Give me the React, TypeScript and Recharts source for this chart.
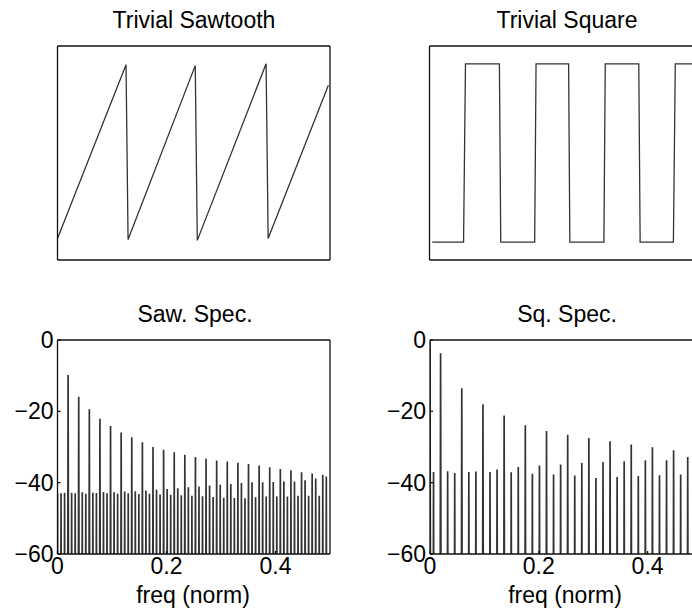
import { LineChart, Line, XAxis, YAxis } from 'recharts'

const FONT = '"Liberation Sans", Arial, Helvetica, sans-serif'
const INK = '#000'
const TRACE = '#333'

// time-domain traces: corner points (sample index, amplitude)
const SAW_T = [0, 50.3, 51.8, 101.1, 102.6, 153.1, 154.6, 198.8]
const SAW_Y = [-0.96, 0.99, -0.97, 0.98, -0.98, 1.0, -0.96, 0.76]

const SQ_T = [2, 25, 26.4, 51.3, 52.3, 77.2, 78.2, 102.1, 103, 128, 129, 153.6, 154.6, 179, 180.4, 200]
const SQ_Y = [-1, -1, 1, 1, -1, -1, 1, 1, -1, -1, 1, 1, -1, -1, 1, 1]

// spectra: one value per DFT bin (dB), bin spacing in normalised freq
const BIN_WIDTH = 0.00649
const BELOW_AXIS_DB = -300

// sawtooth: every bin, grouped as [harmonic, +1 bin, +2 bins]
const SAW_SPEC_DB = [
  -43, -43, -42.8,
  -9.8, -42.8, -43,
  -15.9, -42.7, -43.1,
  -19.4, -42.8, -42.9,
  -22.1, -42.6, -43,
  -24.1, -42.7, -43.1,
  -25.9, -42.5, -43,
  -27.3, -42.4, -43.2,
  -28.7, -42.2, -43.1,
  -30.0, -42, -43.3,
  -30.8, -41.8, -43.4,
  -31.5, -41.6, -43.5,
  -32.2, -41.3, -43.7,
  -32.8, -41.1, -43.8,
  -33.3, -40.8, -44,
  -33.8, -40.6, -44.2,
  -34.1, -40.4, -44.3,
  -34.4, -40.1, -44.4,
  -34.8, -39.9, -44.1,
  -35.2, -39.9, -43.9,
  -35.7, -39.8, -43.9,
  -36.2, -39.7, -43.9,
  -36.5, -39.7, -43.7,
  -37.1, -39.3, -43.7,
  -37.4, -38.8, -43.7,
  -37.8, -38.3,
]

// square: DC plus odd bins only (even bins are empty)
const SQ_SPEC_BINS = [
  0, 1, 3, 5, 7, 9, 11, 13, 15, 17, 19, 21, 23, 25, 27, 29, 31, 33, 35, 37,
  39, 41, 43, 45, 47, 49, 51, 53, 55, 57, 59, 61, 63, 65, 67, 69, 71, 73, 75,
]
const SQ_SPEC_DB = [
  -0.5, -37.0, -3.7, -36.8, -37.3, -13.5, -37.0, -36.9, -18.0, -37.0, -36.3,
  -21.2, -37.1, -35.6, -23.9, -37.5, -35.2, -25.5, -37.7, -34.9, -26.6, -38.0,
  -34.5, -27.5, -38.7, -34.2, -28.4, -38.4, -34.0, -29.3, -38.1, -33.7, -30.1,
  -37.9, -33.7, -30.9, -37.7, -32.8, -31.8,
]

const SPEC_X_TICKS = [0, 0.2, 0.4]
const SPEC_Y_TICKS = [-60, -40, -20, 0]

type Pt = { x: number; y: number }

function corners(t: number[], v: number[]): Pt[] {
  return t.map((x, i) => ({ x, y: v[i] }))
}

// each bin drawn as a spike rising from below the axis
function spikes(bins: number[], levels: number[]): Pt[] {
  const pts: Pt[] = []
  bins.forEach((k, i) => {
    pts.push({ x: (k - 0.5) * BIN_WIDTH, y: BELOW_AXIS_DB })
    pts.push({ x: k * BIN_WIDTH, y: levels[i] })
    pts.push({ x: (k + 0.5) * BIN_WIDTH, y: BELOW_AXIS_DB })
  })
  return pts
}

const sawTime = corners(SAW_T, SAW_Y)
const sqTime = corners(SQ_T, SQ_Y)
const sawSpec = spikes(SAW_SPEC_DB.map((_, k) => k), SAW_SPEC_DB)
const sqSpec = spikes(SQ_SPEC_BINS, SQ_SPEC_DB)

const fmtY = (v: number) => (v < 0 ? `\u2212${Math.abs(v)}` : `${v}`)
const fmtX = (v: number) => `${v}`

// axis boxes: left 50 wide, bottom 30 high, top/right 1px
const AX_L = 50
const AX_B = 30

interface PanelProps {
  left: number
  top: number
  width: number
  height: number
  plot: { top: number; right: number; bottom: number; left: number }
  data: Pt[]
  xDomain: [number, number]
  yDomain: [number, number]
  xTicks?: number[]
  yTicks?: number[]
  traceWidth: number
}

function Panel({ left, top, width, height, plot, data, xDomain, yDomain, xTicks, yTicks, traceWidth }: PanelProps) {
  const labelled = !!xTicks
  const frame = { stroke: '#111', strokeWidth: 1.3 }
  const tickLine = labelled ? frame : false
  const tickText = { fontSize: 23, fill: INK, fontFamily: FONT }
  const margin = {
    top: plot.top - 1,
    right: plot.right - 1,
    bottom: plot.bottom - AX_B,
    left: plot.left - AX_L,
  }
  return (
    <div style={{ position: 'absolute', left, top }}>
      <LineChart width={width} height={height} data={data} margin={margin}>
        <XAxis
          dataKey="x"
          type="number"
          domain={xDomain}
          ticks={xTicks}
          interval={0}
          allowDataOverflow
          height={AX_B}
          axisLine={frame}
          tickLine={tickLine}
          tickSize={-3}
          tickMargin={7}
          tick={labelled ? tickText : false}
          tickFormatter={fmtX}
        />
        <XAxis
          xAxisId="top"
          orientation="top"
          type="number"
          domain={xDomain}
          ticks={xTicks}
          interval={0}
          allowDataOverflow
          height={1}
          axisLine={frame}
          tickLine={tickLine}
          tickSize={-3}
          tick={false}
        />
        <YAxis
          type="number"
          domain={yDomain}
          ticks={yTicks}
          interval={0}
          allowDataOverflow
          width={AX_L}
          axisLine={frame}
          tickLine={tickLine}
          tickSize={-3}
          tickMargin={7}
          tick={labelled ? tickText : false}
          tickFormatter={fmtY}
        />
        <YAxis
          yAxisId="right"
          orientation="right"
          type="number"
          domain={yDomain}
          ticks={yTicks}
          interval={0}
          allowDataOverflow
          width={1}
          axisLine={frame}
          tickLine={tickLine}
          tickSize={-3}
          tick={false}
        />
        <Line
          dataKey="y"
          type="linear"
          stroke={TRACE}
          strokeWidth={traceWidth}
          dot={false}
          isAnimationActive={false}
        />
      </LineChart>
    </div>
  )
}

function Caption({ cx, baseline, text }: { cx: number; baseline: number; text: string }) {
  return (
    <div
      style={{
        position: 'absolute',
        left: cx - 150,
        width: 300,
        top: baseline - 19.5,
        lineHeight: '23px',
        fontSize: 23,
        textAlign: 'center',
        whiteSpace: 'nowrap',
      }}
    >
      {text}
    </div>
  )
}

export default function App() {
  return (
    <div
      style={{
        position: 'absolute',
        left: 0,
        top: 0,
        width: 692,
        height: 610,
        overflow: 'hidden',
        background: '#fff',
        fontFamily: FONT,
        color: INK,
      }}
    >
      <Panel
        left={0}
        top={0}
        width={346}
        height={290}
        plot={{ top: 46, right: 16, bottom: 30, left: 57.5 }}
        data={sawTime}
        xDomain={[0, 200]}
        yDomain={[-1.2, 1.2]}
        traceWidth={1.3}
      />
      <Panel
        left={346}
        top={0}
        width={380}
        height={290}
        plot={{ top: 46, right: 24, bottom: 30, left: 83.5 }}
        data={sqTime}
        xDomain={[0, 200]}
        yDomain={[-1.2, 1.2]}
        traceWidth={1.3}
      />
      <Panel
        left={0}
        top={290}
        width={346}
        height={320}
        plot={{ top: 50, right: 16, bottom: 56, left: 57.5 }}
        data={sawSpec}
        xDomain={[0, 0.5]}
        yDomain={[-60, 0]}
        xTicks={SPEC_X_TICKS}
        yTicks={SPEC_Y_TICKS}
        traceWidth={1.7}
      />
      <Panel
        left={346}
        top={290}
        width={380}
        height={320}
        plot={{ top: 50, right: 24, bottom: 56, left: 84 }}
        data={sqSpec}
        xDomain={[0, 0.5]}
        yDomain={[-60, 0]}
        xTicks={SPEC_X_TICKS}
        yTicks={SPEC_Y_TICKS}
        traceWidth={1.7}
      />
      <Caption cx={194} baseline={28} text="Trivial Sawtooth" />
      <Caption cx={567} baseline={28} text="Trivial Square" />
      <Caption cx={195} baseline={322} text="Saw. Spec." />
      <Caption cx={567} baseline={322} text="Sq. Spec." />
      <Caption cx={193} baseline={603} text="freq (norm)" />
      <Caption cx={565} baseline={603} text="freq (norm)" />
    </div>
  )
}
